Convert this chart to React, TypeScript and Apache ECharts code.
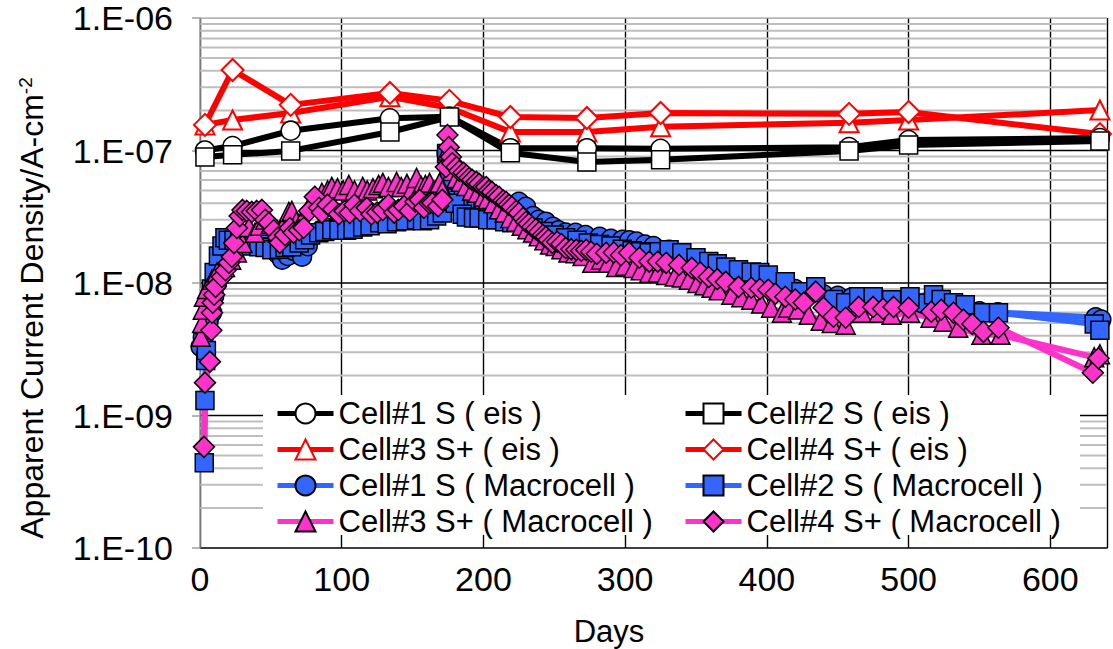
import React, { useEffect, useRef } from "react";
import * as echarts from "echarts";

const FF = "'Liberation Sans', Arial, Helvetica, sans-serif";

// ---- EIS series (days, A/cm2) ----
const eisDays = [3.5, 23, 64, 134, 176, 219, 273, 325, 458, 500, 635];
const cell1Eis = [1.0e-7, 1.08e-7, 1.41e-7, 1.75e-7, 1.8e-7, 1.04e-7, 1.04e-7, 1.03e-7, 1.06e-7, 1.2e-7, 1.24e-7];
const cell2Eis = [8.95e-8, 9.27e-8, 9.93e-8, 1.38e-7, 1.79e-7, 9.6e-8, 8.2e-8, 8.5e-8, 9.93e-8, 1.1e-7, 1.18e-7];
const cell3Eis = [1.56e-7, 1.7e-7, 1.92e-7, 2.54e-7, 2.1e-7, 1.38e-7, 1.38e-7, 1.51e-7, 1.62e-7, 1.7e-7, 2.02e-7];
const cell4Eis = [1.56e-7, 4.05e-7, 2.21e-7, 2.72e-7, 2.37e-7, 1.79e-7, 1.76e-7, 1.92e-7, 1.89e-7, 1.95e-7, 1.33e-7];

// ---- Macrocell series [day, A/cm2] ----
const cell1Macro = [
  [0.5, 3.3e-9], [2, 3.9e-9], [3.5, 4.4e-9], [6, 5.2e-9], [8.5, 6.0e-9], [10, 8.0e-9], [12, 1.0e-8], [15, 1.3e-8],
  [18, 1.5e-8], [21, 1.65e-8], [25, 1.8e-8], [30, 2.0e-8], [35, 2.1e-8], [40, 2.2e-8], [45, 2.0e-8], [50, 1.8e-8],
  [55, 1.65e-8], [58, 1.5e-8], [62, 1.6e-8], [66, 1.75e-8], [72, 1.58e-8], [76, 1.9e-8], [80, 2.3e-8], [85, 2.5e-8],
  [90, 2.6e-8], [95, 2.6e-8], [100, 2.7e-8], [105, 2.6e-8], [110, 2.8e-8], [115, 2.7e-8], [120, 2.9e-8], [125, 2.8e-8],
  [130, 3.0e-8], [135, 3.0e-8], [140, 3.1e-8], [145, 3.0e-8], [150, 3.2e-8], [155, 3.3e-8], [160, 3.4e-8], [165, 3.5e-8],
  [170, 3.7e-8], [174, 9.5e-8], [176, 7.0e-8], [179, 5.8e-8], [182, 5.0e-8], [186, 4.6e-8], [190, 4.4e-8], [195, 4.2e-8],
  [200, 4.0e-8], [205, 4.0e-8], [210, 4.1e-8], [215, 4.0e-8], [220, 3.8e-8], [225, 4.09e-8], [230, 3.76e-8], [235, 3.2e-8],
  [239, 3.0e-8], [244, 2.9e-8], [249, 2.65e-8], [253, 2.5e-8], [258, 2.4e-8], [265, 2.39e-8], [272, 2.3e-8], [282, 2.23e-8],
  [290, 2.15e-8], [298, 2.12e-8], [303, 2.1e-8], [308, 2.05e-8], [314, 1.95e-8], [320, 1.9e-8], [331, 1.78e-8], [340, 1.65e-8],
  [350, 1.5e-8], [360, 1.35e-8], [370, 1.25e-8], [380, 1.15e-8], [390, 1.07e-8], [400, 1.0e-8], [410, 9.5e-9], [420, 9.0e-9],
  [430, 8.6e-9], [440, 8.2e-9], [450, 8.0e-9], [460, 7.8e-9], [470, 7.6e-9], [480, 7.5e-9], [490, 7.4e-9], [500, 7.3e-9],
  [510, 7.0e-9], [520, 6.8e-9], [530, 6.6e-9], [540, 6.3e-9], [550, 6.1e-9], [563, 6.0e-9], [632, 5.5e-9], [636, 5.3e-9],
];
const cell2Macro = [
  [3, 4.4e-10], [3.5, 1.3e-9], [4, 2.6e-9], [4.5, 3.1e-9], [6, 5.0e-9], [8, 9.0e-9], [10, 1.2e-8], [13, 1.6e-8],
  [15.5, 1.9e-8], [17.6, 2.2e-8], [20, 2.1e-8], [24, 2.1e-8], [28, 2.05e-8], [31.7, 2.0e-8], [36, 1.9e-8], [41.5, 1.88e-8],
  [46, 1.85e-8], [50.7, 1.78e-8], [56, 1.8e-8], [60, 1.85e-8], [64.8, 1.88e-8], [70, 2.0e-8], [73.9, 2.12e-8], [78, 2.3e-8],
  [83.8, 2.39e-8], [88, 2.45e-8], [93, 2.52e-8], [98, 2.5e-8], [103.5, 2.5e-8], [108, 2.55e-8], [114.8, 2.65e-8], [120, 2.7e-8],
  [126.8, 2.85e-8], [132, 2.8e-8], [138.7, 2.9e-8], [145, 2.95e-8], [152.8, 3.0e-8], [157, 2.95e-8], [162, 3.0e-8], [167, 3.2e-8],
  [171, 3.38e-8], [174, 9.5e-8], [176, 6.0e-8], [180, 4.0e-8], [185, 3.3e-8], [188, 3.15e-8], [193, 3.1e-8], [197, 3.1e-8],
  [203, 3.0e-8], [209, 3.0e-8], [215, 2.9e-8], [220, 2.85e-8], [228, 2.7e-8], [235, 2.6e-8], [242, 2.45e-8], [250, 2.3e-8],
  [258, 2.2e-8], [266, 2.1e-8], [274, 2.0e-8], [282, 1.95e-8], [290, 1.9e-8], [298, 1.8e-8], [305, 1.75e-8], [311, 1.72e-8],
  [317, 1.69e-8], [324, 1.72e-8], [331, 1.78e-8], [340, 1.69e-8], [350, 1.55e-8], [359, 1.45e-8], [365, 1.4e-8], [371, 1.32e-8],
  [380, 1.26e-8], [389, 1.21e-8], [395, 1.2e-8], [401, 1.15e-8], [413, 1.02e-8], [424, 8.6e-9], [434.5, 9.35e-9], [447, 7.5e-9],
  [455.6, 7.1e-9], [464.8, 7.87e-9], [475, 7.87e-9], [488, 7.47e-9], [501, 7.87e-9], [517.6, 8.15e-9], [523, 7.5e-9], [531.7, 7.1e-9],
  [540, 6.85e-9], [552.8, 5.96e-9], [563.4, 5.96e-9], [631, 4.9e-9], [635, 4.4e-9],
];
const cell3Macro = [
  [0.5, 3.93e-9], [1.5, 5.0e-9], [2, 6.28e-9], [2.8, 7.87e-9], [5, 9.0e-9], [8.5, 1.06e-8], [12, 1.2e-8], [17.6, 1.32e-8],
  [22, 1.5e-8], [26, 1.7e-8], [30, 2.0e-8], [34.5, 2.65e-8], [38.7, 2.39e-8], [42, 2.7e-8], [46, 3.0e-8], [50, 2.8e-8],
  [55, 2.4e-8], [58, 2.6e-8], [62.7, 3.44e-8], [64.8, 3.5e-8], [68, 2.9e-8], [72, 3.0e-8], [77, 3.8e-8], [81, 4.5e-8],
  [86, 4.8e-8], [90, 5.0e-8], [93, 5.31e-8], [97, 5.2e-8], [101, 5.0e-8], [105, 5.5e-8], [109, 5.0e-8], [114.8, 5.31e-8],
  [118, 5.0e-8], [122, 5.2e-8], [126, 5.5e-8], [129, 5.7e-8], [133, 5.3e-8], [138.7, 5.79e-8], [142, 5.3e-8], [146, 5.6e-8],
  [149, 5.0e-8], [152.8, 6.21e-8], [156, 5.4e-8], [159, 5.5e-8], [162, 5.7e-8], [165, 5.0e-8], [169, 5.7e-8], [171, 5.0e-8],
  [174.6, 1.0e-7], [176, 8.5e-8], [178, 7.0e-8], [181, 6.2e-8], [184, 5.8e-8], [188, 5.4e-8], [192, 5.0e-8], [196, 4.8e-8],
  [200, 4.5e-8], [203, 4.3e-8], [207, 4.0e-8], [211, 3.6e-8], [215, 3.4e-8], [219, 3.1e-8], [223, 2.9e-8], [227, 2.7e-8],
  [231, 2.55e-8], [235, 2.4e-8], [239, 2.25e-8], [243, 2.1e-8], [247, 1.95e-8], [251, 1.9e-8], [255, 1.8e-8], [260, 1.7e-8],
  [265, 1.68e-8], [270, 1.6e-8], [276.8, 1.42e-8], [283, 1.5e-8], [288, 1.42e-8], [293.7, 1.32e-8], [300, 1.35e-8], [306, 1.3e-8],
  [311, 1.25e-8], [317, 1.19e-8], [323, 1.2e-8], [329, 1.15e-8], [335, 1.12e-8], [340, 1.1e-8], [345, 1.06e-8], [351, 1.0e-8],
  [356, 9.6e-9], [361, 9.2e-9], [366, 8.8e-9], [375, 8.15e-9], [382, 7.8e-9], [389, 7.47e-9], [396, 7.0e-9], [403, 6.5e-9],
  [410.6, 5.96e-9], [415, 6.5e-9], [422, 6.3e-9], [429.6, 5.75e-9], [438, 5.2e-9], [445.8, 5.0e-9], [455.6, 4.84e-9], [467, 5.96e-9],
  [479, 5.96e-9], [488, 5.75e-9], [501, 5.96e-9], [515.5, 5.47e-9], [524.6, 5.1e-9], [535, 4.59e-9], [551.4, 4.06e-9], [564.8, 4.06e-9],
  [631, 2.75e-9], [635, 2.9e-9],
];
const cell4Macro = [
  [2.8, 5.8e-10], [3.5, 1.77e-9], [7, 2.55e-9], [8, 4.4e-9], [8.5, 5.96e-9], [9, 7.1e-9], [10, 8.15e-9], [11, 9.35e-9],
  [15.5, 1.11e-8], [18, 1.25e-8], [20.4, 1.42e-8], [22.5, 1.58e-8], [24, 2.0e-8], [26, 2.6e-8], [28, 3.2e-8], [30, 3.56e-8],
  [33, 3.5e-8], [36.6, 3.44e-8], [40, 3.5e-8], [43.7, 3.56e-8], [46, 3.0e-8], [48.6, 2.85e-8], [52, 2.5e-8], [55, 2.2e-8],
  [56.3, 2.01e-8], [60, 2.3e-8], [63.4, 2.6e-8], [66, 2.4e-8], [70, 2.5e-8], [73.2, 2.61e-8], [77, 3.5e-8], [81, 4.47e-8],
  [84, 3.7e-8], [86, 3.4e-8], [90, 3.9e-8], [94, 3.6e-8], [98, 3.3e-8], [102, 3.5e-8], [105.6, 3.38e-8], [109, 3.9e-8],
  [113, 3.5e-8], [117.6, 3.69e-8], [121, 3.3e-8], [125, 3.4e-8], [128.9, 3.56e-8], [133, 3.9e-8], [137, 3.4e-8], [140, 3.56e-8],
  [144, 3.8e-8], [148, 3.5e-8], [152, 4.1e-8], [155, 4.24e-8], [158, 3.7e-8], [162, 4.0e-8], [164, 4.02e-8], [168, 3.8e-8],
  [171, 4.24e-8], [173.5, 7.5e-8], [174.6, 1.31e-7], [175.5, 1.06e-7], [177, 8.95e-8], [178, 8.0e-8], [181, 7.5e-8], [183, 7.0e-8],
  [186, 6.8e-8], [188, 6.5e-8], [190, 6.2e-8], [192, 6.0e-8], [195, 5.8e-8], [197, 5.6e-8], [200, 5.3e-8], [202, 5.3e-8],
  [204, 5.0e-8], [206, 4.87e-8], [209, 4.6e-8], [211, 4.47e-8], [214, 4.2e-8], [216, 4.09e-8], [218, 3.9e-8], [220, 3.76e-8],
  [223, 3.5e-8], [225, 3.38e-8], [228, 3.1e-8], [230, 2.9e-8], [232, 2.8e-8], [234.5, 2.65e-8], [237, 2.55e-8], [239.4, 2.43e-8],
  [242, 2.3e-8], [244, 2.23e-8], [246, 2.12e-8], [248.6, 2.01e-8], [252, 2.05e-8], [255, 1.97e-8], [258, 1.84e-8], [262, 1.8e-8],
  [265.5, 1.78e-8], [269, 1.75e-8], [272.5, 1.78e-8], [276, 1.72e-8], [280, 1.66e-8], [286.6, 1.69e-8], [292, 1.7e-8], [297, 1.62e-8],
  [302.8, 1.69e-8], [310, 1.55e-8], [317, 1.45e-8], [323, 1.45e-8], [329, 1.42e-8], [338, 1.37e-8], [347, 1.3e-8], [353, 1.2e-8],
  [359, 1.11e-8], [365, 1.07e-8], [371, 1.02e-8], [380, 9.35e-9], [389, 9.2e-9], [395, 9.0e-9], [401, 8.9e-9], [406, 8.3e-9],
  [413, 7.87e-9], [420, 7.5e-9], [426, 7.1e-9], [434.5, 8.6e-9], [440, 6.5e-9], [447, 5.56e-9], [455.6, 5.47e-9], [464.8, 6.6e-9],
  [475, 6.6e-9], [482, 6.4e-9], [489.4, 6.6e-9], [500, 6.5e-9], [516, 6.07e-9], [523, 6.28e-9], [531.7, 5.96e-9], [538.7, 5.28e-9],
  [545, 4.9e-9], [552.8, 4.28e-9], [563.4, 4.59e-9], [630, 2.1e-9], [634, 2.7e-9],
];

const names = [
  "Cell#1 S ( eis )",
  "Cell#2 S ( eis )",
  "Cell#3 S+ ( eis )",
  "Cell#4 S+ ( eis )",
  "Cell#1 S ( Macrocell )",
  "Cell#2 S ( Macrocell )",
  "Cell#3 S+ ( Macrocell )",
  "Cell#4 S+ ( Macrocell )",
];

const X_MIN = 0;
const X_MAX = 640;
const majorGrid = [1e-9, 1e-8, 1e-7];
const topGrid = 1e-6;
const decades = [-10, -9, -8, -7];
const minorMultipliers = [2, 3, 4, 5, 6, 7, 8, 9];

const BLUE = "#3366FF";
const PINK = "#FF33CC";
const RED = "#FF0000";

export default function App() {
  const ref = useRef<HTMLDivElement>(null);

  useEffect(() => {
    document.body.style.margin = "0";
    const chart = echarts.init(ref.current!, null, { renderer: "svg" });

    const zipEis = (vals: number[]) => eisDays.map((d, i) => [d, vals[i]]);

    const hLine = (v: number, color: string, width: number) => ({
      type: "line",
      data: [[X_MIN, v], [X_MAX, v]],
      symbol: "none",
      silent: true,
      z: 1,
      lineStyle: { color, width },
      emphasis: { disabled: true },
      tooltip: { show: false },
    });

    const gridSeries: any[] = [];
    decades.forEach((e) => {
      minorMultipliers.forEach((m) => {
        gridSeries.push(hLine(m * Math.pow(10, e), "#BEBEBE", 2));
      });
    });
    gridSeries.push(hLine(topGrid, "#A0A0A0", 1.5));
    majorGrid.forEach((v) => gridSeries.push(hLine(v, "#000", 1.4)));

    const base = (name: string, data: any[], symbol: string, size: number, lineColor: string, fill: string, border: string, bw: number) => ({
      name,
      type: "line",
      data,
      symbol,
      symbolSize: size,
      showSymbol: true,
      showAllSymbol: true,
      z: 4,
      lineStyle: { color: lineColor, width: 6 },
      itemStyle: { color: fill, borderColor: border, borderWidth: bw },
      emphasis: { disabled: true },
    });

    const legendText = { fontFamily: FF, fontSize: 31, color: "#000", lineHeight: 30 };
    const legendCommon = {
      top: 398,
      orient: "vertical",
      padding: 0,
      itemWidth: 56,
      itemHeight: 25,
      itemGap: 5,
      z: 10,
      textStyle: legendText,
      lineStyle: { width: 5 },
    };

    const option: any = {
      animation: false,
      grid: { left: 200, right: 6, top: 18, bottom: 101, containLabel: false },
      xAxis: {
        type: "value",
        min: X_MIN,
        max: X_MAX,
        interval: 100,
        axisLine: { show: true, onZero: false, lineStyle: { color: "#000", width: 1.5 } },
        axisTick: { show: false },
        axisLabel: { fontFamily: FF, fontSize: 34, color: "#000", margin: 14, showMaxLabel: false },
        splitLine: { show: true, lineStyle: { color: "#000", width: 1.4 } },
      },
      yAxis: {
        type: "log",
        logBase: 10,
        min: 1e-10,
        max: 1e-6,
        z: 2,
        axisLine: { show: true, lineStyle: { color: "#A0A0A0", width: 1.5 } },
        axisTick: { show: true, length: 8, lineStyle: { color: "#A0A0A0", width: 1.5 } },
        axisLabel: {
          fontFamily: FF,
          fontSize: 34,
          color: "#000",
          margin: 27,
          formatter: (v: number) => {
            const e = Math.round(Math.log10(v));
            const a = Math.abs(e);
            return "1.E" + (e < 0 ? "-" : "+") + (a < 10 ? "0" + a : String(a));
          },
        },
        splitLine: { show: false },
        minorTick: { show: false },
      },
      legend: [
        { ...legendCommon, left: 275, data: [names[0], names[2], names[4], names[6]] },
        { ...legendCommon, left: 683, data: [names[1], names[3], names[5], names[7]] },
      ],
      graphic: [
        { type: "rect", z: 3, shape: { x: 263, y: 395, width: 817, height: 140 }, style: { fill: "#fff" } },
        {
          type: "text",
          x: 32,
          y: 308,
          rotation: Math.PI / 2,
          style: {
            text: "Apparent Current Density/A-cm{sup|-2}",
            fontFamily: FF,
            fontSize: 32,
            fill: "#000",
            align: "center",
            verticalAlign: "middle",
            rich: { sup: { fontFamily: FF, fontSize: 19, fill: "#000", verticalAlign: "top", padding: [0, 0, 14, 0] } },
          },
        },
        {
          type: "text",
          x: 609,
          y: 631,
          style: { text: "Days", fontFamily: FF, fontSize: 31, fill: "#000", align: "center", verticalAlign: "middle" },
        },
      ],
      series: [
        ...gridSeries,
        base(names[2], zipEis(cell3Eis), "triangle", 19, RED, "#fff", RED, 2),
        base(names[3], zipEis(cell4Eis), "diamond", 22, RED, "#fff", RED, 2),
        base(names[0], zipEis(cell1Eis), "circle", 19, "#000", "#fff", "#000", 1.5),
        base(names[1], zipEis(cell2Eis), "rect", 18, "#000", "#fff", "#000", 1.5),
        base(names[4], cell1Macro, "circle", 19, BLUE, BLUE, "#000", 1.5),
        base(names[5], cell2Macro, "rect", 18, BLUE, BLUE, "#000", 1.5),
        base(names[6], cell3Macro, "triangle", 19, PINK, PINK, "#000", 1.5),
        base(names[7], cell4Macro, "diamond", 21, PINK, PINK, "#000", 1.5),
      ],
    };

    chart.setOption(option);
    return () => chart.dispose();
  }, []);

  return <div ref={ref} style={{ width: 1113, height: 649 }} />;
}
